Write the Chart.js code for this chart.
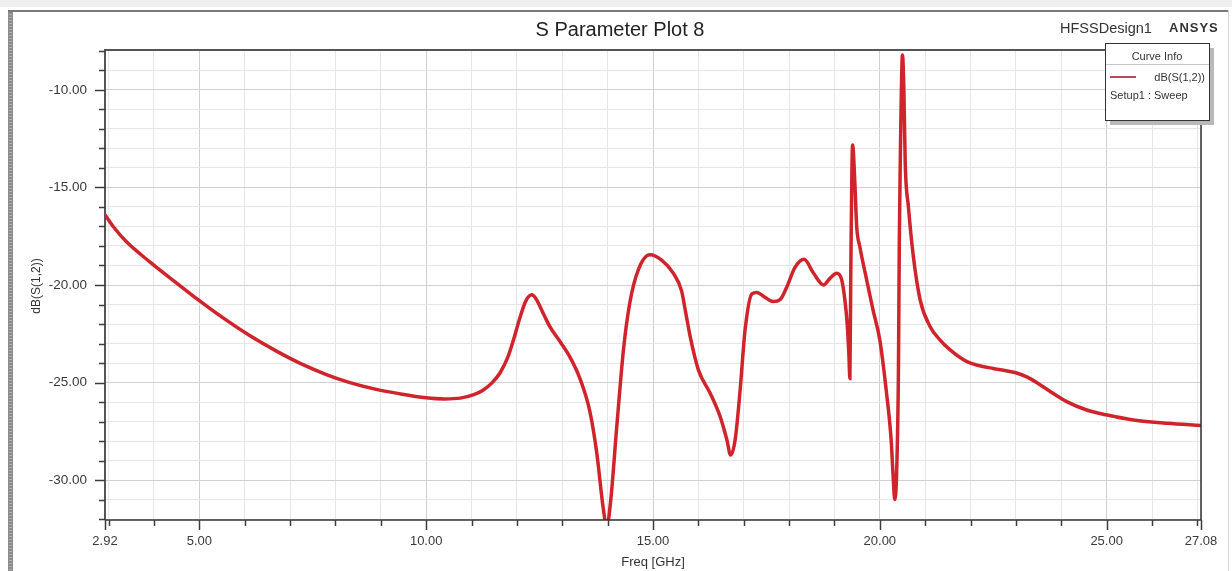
<!DOCTYPE html>
<html>
<head>
<meta charset="utf-8">
<title>S Parameter Plot 8</title>
<script src="https://cdn.jsdelivr.net/npm/chart.js@4.4.1/dist/chart.umd.min.js"></script>
<style>
  html, body { margin: 0; padding: 0; background: #fff; }
  #wrap { position: relative; width: 1232px; height: 571px; }
</style>
</head>
<body>
<div id="wrap"><canvas id="sparam"></canvas></div>
<script>
/* ===================================
   S Parameter Plot 8 — dB(S(1,2)) sweep
   =================================== */

// ========== DATA ==========
const freqGHz = [
  2.92, 3.10, 3.40, 3.90, 4.50, 5.00, 5.50, 6.10, 6.70, 7.20,
  7.80, 8.30, 8.90, 9.40, 10.00, 10.40, 10.75, 11.05, 11.26, 11.45,
  11.63, 11.80, 11.92, 12.07, 12.20, 12.33, 12.42, 12.60, 12.73, 12.95,
  13.17, 13.39, 13.61, 13.76, 13.90, 13.98, 14.07, 14.20, 14.35, 14.49,
  14.68, 14.93, 15.19, 15.45, 15.63, 15.72, 15.82, 16.00, 16.26, 16.48, 16.63,
  16.71, 16.81, 16.92, 17.03, 17.18, 17.29, 17.45, 17.65, 17.80, 17.95,
  18.13, 18.33, 18.54, 18.76, 18.90, 19.05, 19.16, 19.23, 19.28, 19.32,
  19.34, 19.36, 19.40, 19.45, 19.49, 19.56, 19.71, 19.85, 20.00, 20.14,
  20.25, 20.29, 20.33, 20.37, 20.41, 20.43, 20.45, 20.50, 20.53, 20.56,
  20.63, 20.74, 20.89, 21.11, 21.30, 21.55, 21.92, 22.20, 22.50, 22.75,
  23.00, 23.25, 23.50, 23.75, 24.12, 24.56, 25.01, 25.59, 26.33, 27.08,
];
const s12dB = [
  -16.40, -17.00, -17.80, -18.80, -19.90, -20.80, -21.65, -22.58, -23.39, -23.99,
  -24.59, -24.99, -25.35, -25.57, -25.78, -25.84, -25.80, -25.62, -25.38, -25.02,
  -24.50, -23.70, -22.85, -21.65, -20.80, -20.50, -20.70, -21.55, -22.15, -22.90,
  -23.70, -24.80, -26.50, -28.60, -31.40, -32.40, -31.00, -27.30, -23.30, -20.90,
  -19.20, -18.45, -18.72, -19.40, -20.30, -21.40, -22.65, -24.35, -25.55, -26.75, -27.95,
  -28.72, -27.95, -25.40, -22.30, -20.45, -20.38, -20.60, -20.85, -20.75, -20.10,
  -19.10, -18.68, -19.40, -20.00, -19.66, -19.40, -19.74, -20.77, -21.97, -23.68,
  -24.79, -19.40, -12.82, -14.79, -17.00, -18.04, -19.74, -21.28, -22.82, -25.38,
  -27.95, -29.66, -31.00, -29.66, -24.50, -17.70, -13.80, -8.20, -10.00, -13.76,
  -15.98, -18.55, -20.77, -22.14, -22.75, -23.33, -23.93, -24.14, -24.28, -24.38,
  -24.50, -24.72, -25.06, -25.45, -25.98, -26.41, -26.67, -26.92, -27.09, -27.20,
];

const xLabelTicks = [2.92, 5, 10, 15, 20, 25, 27.08];
const yLabelTicks = [-10, -15, -20, -25, -30];
const xRange = [2.92, 27.08];
const yRange = [-32.05, -7.95];

const points = freqGHz.map((f, i) => ({ x: f, y: s12dB[i] }));

// every whole GHz / dB gets a grid line, labelled ones are the darker majors
const xGridTicks = [xRange[0]];
for (let f = 3; f <= 27; f++) xGridTicks.push(f);
xGridTicks.push(xRange[1]);
const yGridTicks = [];
for (let d = -32; d <= -8; d++) yGridTicks.push(d);

const isMajor = (list, v) => list.some((t) => Math.abs(t - v) < 1e-6);

const FONT = "'Liberation Sans', Arial, sans-serif";
const CURVE_RED = "#cf242c";

// ========== FRAME, TEXT, TICKS, CURVE INFO ==========
const plotDecor = {
  id: "plotDecor",
  beforeDraw(chart) {
    const ctx = chart.ctx;
    ctx.save();
    ctx.fillStyle = "#ffffff";
    ctx.fillRect(0, 0, chart.width, chart.height);
    // window strip along the top
    ctx.fillStyle = "#eeeeee";
    ctx.fillRect(0, 0, chart.width, 7);
    // outer frame
    ctx.fillStyle = "#8c8c8c";
    ctx.fillRect(8, 10, 5, chart.height - 10);
    ctx.fillStyle = "#b0b0b0";
    for (let y = 11; y < chart.height; y += 3) ctx.fillRect(9, y, 3, 1);
    ctx.fillStyle = "#7a7a7a";
    ctx.fillRect(8, 10, 1220, 2);
    ctx.fillStyle = "#d6d6d6";
    ctx.fillRect(1228, 10, 1, chart.height - 10);
    ctx.restore();
  },
  afterDraw(chart) {
    const ctx = chart.ctx;
    const a = chart.chartArea;
    const xs = chart.scales.x;
    const ys = chart.scales.y;
    ctx.save();

    // plot border
    ctx.strokeStyle = "#555555";
    ctx.lineWidth = 2;
    ctx.beginPath();
    ctx.moveTo(a.left, a.bottom);
    ctx.lineTo(a.left, a.top);
    ctx.lineTo(a.right, a.top);
    ctx.stroke();
    ctx.strokeStyle = "#333333";
    ctx.lineWidth = 1.5;
    ctx.beginPath();
    ctx.moveTo(a.right, a.top);
    ctx.lineTo(a.right, a.bottom);
    ctx.lineTo(a.left, a.bottom);
    ctx.stroke();

    // tick marks
    ctx.strokeStyle = "#3c3c3c";
    ctx.lineWidth = 1.5;
    ctx.beginPath();
    yGridTicks.forEach((v) => {
      const py = Math.round(ys.getPixelForValue(v)) + 0.5;
      const len = isMajor(yLabelTicks, v) ? 10 : 6;
      ctx.moveTo(a.left - len, py);
      ctx.lineTo(a.left, py);
    });
    xGridTicks.forEach((v) => {
      const px = Math.round(xs.getPixelForValue(v)) + 0.5;
      const len = isMajor(xLabelTicks, v) ? 10 : 6;
      ctx.moveTo(px, a.bottom);
      ctx.lineTo(px, a.bottom + len);
    });
    ctx.stroke();

    // title and header
    ctx.fillStyle = "#222222";
    ctx.textBaseline = "middle";
    ctx.textAlign = "center";
    ctx.font = `20px ${FONT}`;
    ctx.fillText("S Parameter Plot 8", 620, 30);
    ctx.textAlign = "left";
    ctx.fillStyle = "#333333";
    ctx.font = `14.5px ${FONT}`;
    ctx.fillText("HFSSDesign1", 1060, 29);
    ctx.font = `bold 13px ${FONT}`;
    ctx.letterSpacing = "1px";
    ctx.fillText("ANSYS", 1169, 28);
    ctx.letterSpacing = "0px";

    // axis titles
    ctx.fillStyle = "#333333";
    ctx.font = `13px ${FONT}`;
    ctx.textAlign = "center";
    ctx.fillText("Freq [GHz]", (a.left + a.right) / 2, 562);
    ctx.save();
    ctx.translate(37, 286);
    ctx.rotate(-Math.PI / 2);
    ctx.font = `12px ${FONT}`;
    ctx.fillText("dB(S(1,2))", 0, 0);
    ctx.restore();

    // curve info box
    const bx = 1105, by = 43, bw = 104, bh = 77;
    ctx.fillStyle = "#b9b9b9";
    ctx.fillRect(bx + 5, by + 5, bw, bh);
    ctx.fillStyle = "#ffffff";
    ctx.fillRect(bx, by, bw, bh);
    ctx.strokeStyle = "#333333";
    ctx.lineWidth = 1;
    ctx.strokeRect(bx + 0.5, by + 0.5, bw, bh);
    ctx.strokeStyle = "#c8c8c8";
    ctx.beginPath();
    ctx.moveTo(bx + 1, by + 21.5);
    ctx.lineTo(bx + bw, by + 21.5);
    ctx.stroke();
    ctx.fillStyle = "#333333";
    ctx.font = `11px ${FONT}`;
    ctx.textAlign = "center";
    ctx.fillText("Curve Info", bx + bw / 2, by + 14);
    ctx.strokeStyle = "#b8485a";
    ctx.lineWidth = 2;
    ctx.beginPath();
    ctx.moveTo(1110, 77);
    ctx.lineTo(1136, 77);
    ctx.stroke();
    ctx.textAlign = "right";
    ctx.fillText("dB(S(1,2))", 1205, 78);
    ctx.textAlign = "left";
    ctx.fillText("Setup1 : Sweep", 1110, 96);

    ctx.restore();
  },
};

// ========== CHART ==========
new Chart(document.getElementById("sparam"), {
  type: "line",
  data: {
    datasets: [
      {
        label: "dB(S(1,2))",
        data: points,
        borderColor: CURVE_RED,
        borderWidth: 3.5,
        pointRadius: 0,
        cubicInterpolationMode: "monotone",
        fill: false,
        clip: 0,
      },
    ],
  },
  options: {
    responsive: true,
    maintainAspectRatio: false,
    animation: false,
    layout: { padding: { left: 0, top: 50, right: 31, bottom: 0 } },
    plugins: {
      legend: { display: false },
      title: { display: false },
      tooltip: { enabled: false },
    },
    scales: {
      x: {
        type: "linear",
        min: xRange[0],
        max: xRange[1],
        afterBuildTicks: (scale) => {
          scale.ticks = xGridTicks.map((v) => ({ value: v }));
        },
        afterFit: (scale) => {
          scale.height = 51;
        },
        border: { display: false },
        grid: {
          drawTicks: false,
          lineWidth: 1,
          color: (c) =>
            c.tick && isMajor(xLabelTicks, c.tick.value) ? "#d0d0d0" : "#e6e6e6",
        },
        ticks: {
          autoSkip: false,
          maxRotation: 0,
          padding: 14,
          color: "#3a3a3a",
          font: { family: FONT, size: 13 },
          callback: (v) => (isMajor(xLabelTicks, v) ? Number(v).toFixed(2) : ""),
        },
      },
      y: {
        type: "linear",
        min: yRange[0],
        max: yRange[1],
        afterBuildTicks: (scale) => {
          scale.ticks = yGridTicks.map((v) => ({ value: v }));
        },
        afterFit: (scale) => {
          scale.width = 105;
        },
        border: { display: false },
        grid: {
          drawTicks: false,
          lineWidth: 1,
          color: (c) =>
            c.tick && isMajor(yLabelTicks, c.tick.value) ? "#d0d0d0" : "#e6e6e6",
        },
        ticks: {
          autoSkip: false,
          padding: 18,
          color: "#3a3a3a",
          font: { family: FONT, size: 13.5 },
          callback: (v) => (isMajor(yLabelTicks, v) ? Number(v).toFixed(2) : ""),
        },
      },
    },
  },
  plugins: [plotDecor],
});
</script>
</body>
</html>
